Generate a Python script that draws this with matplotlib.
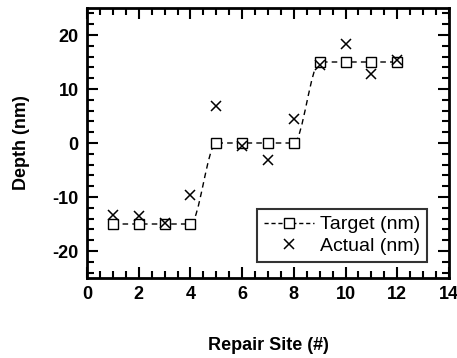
import matplotlib
matplotlib.use("Agg")
import matplotlib.pyplot as plt
from matplotlib.path import Path
from matplotlib.patches import PathPatch
from matplotlib.lines import Line2D
from matplotlib.ticker import MultipleLocator

plt.rcParams['font.family'] = ['Liberation Sans', 'DejaVu Sans']
plt.rcParams['axes.unicode_minus'] = False

site = [1, 2, 3, 4, 5, 6, 7, 8, 9, 10, 11, 12]
target = [-15, -15, -15, -15, 0, 0, 0, 0, 15, 15, 15, 15]
actual = [-13.3, -13.6, -14.8, -9.6, 6.9, -0.6, -3.1, 4.5, 14.5, 18.3, 12.8, 15.4]

fig = plt.figure(figsize=(4.57, 3.58), dpi=100)
ax = fig.add_axes([87/457, 1-278/358, (449-87)/457, (278-8)/358])

# smooth dashed curve through target points (horizontal tangents)
verts = [(site[0], target[0])]
codes = [Path.MOVETO]
for i in range(len(site)-1):
    dx = (site[i+1]-site[i]) / 3.0
    verts += [(site[i]+dx, target[i]), (site[i+1]-dx, target[i+1]), (site[i+1], target[i+1])]
    codes += [Path.CURVE4]*3
ax.add_patch(PathPatch(Path(verts, codes), fill=False, ls=(0, (4, 3)), lw=1.0, color='black'))

ax.plot(site, target, ls='none', marker='s', mfc='white', mec='black', ms=6.5, mew=1.0, zorder=3)
ax.plot(site, actual, ls='none', marker='x', color='black', ms=7, mew=1.1, zorder=4)

ax.set_xlim(0, 14)
ax.set_ylim(-25, 25)
ax.xaxis.set_major_locator(MultipleLocator(2))
ax.xaxis.set_minor_locator(MultipleLocator(0.5))
ax.yaxis.set_major_locator(MultipleLocator(10))
ax.yaxis.set_minor_locator(MultipleLocator(2))
ax.tick_params(which='both', direction='in', top=True, right=True, width=1.5, labelsize=13, pad=6)
ax.tick_params(which='major', length=8)
ax.tick_params(which='minor', length=5)
for lab in ax.get_xticklabels() + ax.get_yticklabels():
    lab.set_fontweight('bold')
for s in ax.spines.values():
    s.set_linewidth(2)

ax.set_xlabel('Repair Site (#)', fontsize=13, fontweight='bold', labelpad=24)
ax.set_ylabel('Depth (nm)', fontsize=13, fontweight='bold', labelpad=16)

handles = [Line2D([], [], ls=(0, (3, 2)), lw=1.0, color='black', marker='s', mfc='white', mec='black', ms=6.5),
           Line2D([], [], ls='none', marker='x', color='black', ms=7, mew=1.1)]
leg = ax.legend(handles, ['Target (nm)', 'Actual (nm)'], loc='lower right',
                bbox_to_anchor=(0.94, 0.06), fontsize=14, frameon=True, fancybox=False,
                edgecolor='black', handlelength=2.6, handletextpad=0.3, borderpad=0.35,
                labelspacing=0.2, borderaxespad=0)
leg.get_frame().set_linewidth(1.5)

fig.savefig('out.png', dpi=100)
